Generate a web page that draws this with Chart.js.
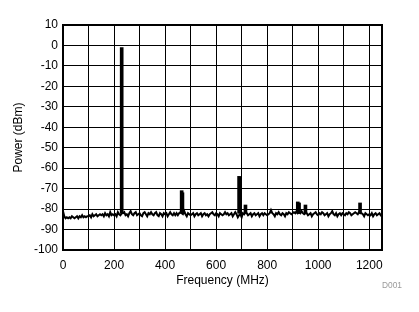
<!DOCTYPE html>
<html><head><meta charset="utf-8">
<script src="https://cdn.jsdelivr.net/npm/chart.js@4/dist/chart.umd.min.js"></script>
<style>html,body{margin:0;padding:0;background:#fff;overflow:hidden}</style>
</head><body>
<canvas id="c" width="419" height="312"></canvas>
<script>
const xTitle = 'Frequency (MHz)';
const yTitle = 'Power (dBm)';
const noteText = 'D001';
const xMin = 0, xMax = 1250;
const xGridValues = [0, 100, 200, 300, 400, 500, 600, 700, 800, 900, 1000, 1100, 1200];
const xLabelValues = [0, 200, 400, 600, 800, 1000, 1200];
const yMin = -100, yMax = 10, yStep = 10;
const FREQ_STEP = 5; // MHz between noise-floor bins
const noiseFloor = [
  -81, -83.5, -84.5, -84, -84.5, -84, -84.5, -83.5, -84, -84.5,
  -84, -83.5, -84.5, -83.5, -84, -83, -84, -83.5, -84, -83.5,
  -83.5, -83, -84, -82.5, -83.5, -83, -82.5, -83.5, -83, -82.5,
  -83, -82.5, -83.5, -82, -83, -82.5, -83.5, -81.5, -83, -82.5,
  -83, -82.5, -83.5, -81.5, -82.5, -83, -82, -82, -81.5, -83,
  -82.5, -83.5, -82, -81, -82.5, -83, -82, -81.5, -83, -82.5,
  -82, -83, -83.5, -82, -81.5, -82.5, -83.5, -82, -82.5, -81.5,
  -82.5, -83, -82, -81.5, -83, -83.5, -82, -82.5, -83.5, -82,
  -82.5, -82, -83.5, -82.5, -81.5, -82.5, -83, -82, -83, -82,
  -83, -82, -81.5, -82, -82.5, -81, -82.5, -83.5, -82, -82.5,
  -83, -82.5, -82, -83.5, -82.5, -82, -83, -82.5, -82, -83.5,
  -82.5, -82, -83, -82.5, -83.5, -82.5, -82, -81.5, -82.5, -83,
  -82, -82.5, -83.5, -82, -82.5, -83, -82.5, -81.5, -82.5, -82,
  -83, -82.5, -82, -83.5, -82.5, -81.5, -82.5, -84, -83, -82.5,
  -84, -82, -82.5, -81.5, -82, -83, -82.5, -82, -83.5, -82.5,
  -82, -83, -82.5, -82, -83.5, -82.5, -82, -83, -82, -82.5,
  -83, -82.5, -82, -80.5, -82, -82.5, -83.5, -82, -82.5, -81.5,
  -82.5, -83, -82, -82.5, -83.5, -82, -82.5, -81.5, -82, -82.5,
  -82, -81.5, -82, -81, -82, -81.5, -82, -81, -82, -82.5,
  -82, -82, -83, -82.5, -82, -83.5, -82.5, -82, -81.5, -82.5,
  -83, -82, -82.5, -81.5, -82, -83, -82.5, -82, -83.5, -82.5,
  -82, -81, -82.5, -83, -82, -83.5, -82.5, -82, -83, -82,
  -82.5, -83, -82, -82.5, -81.5, -82, -83, -82.5, -82, -81.5,
  -82, -82.5, -81.5, -82, -82, -82.5, -83.5, -82, -82.5, -83,
  -82.5, -83, -82, -83.5, -82.5, -82, -83, -82.5, -82, -83,
  -82.5
];
const freqs = noiseFloor.map((_, i) => i * FREQ_STEP);

// Spurs / tones: frequency (MHz), peak power (dBm)
const spurFreqs = [230, 465, 468, 690, 694, 715, 920, 925, 950, 1164];
const spurPeaks = [-1, -71, -72, -64, -64.5, -78, -76.5, -77, -78, -77];
const spurBase = -82;

const FONT = "'Liberation Sans', Arial, sans-serif";

const framePlugin = {
  id: 'frame',
  afterDraw(chart) {
    const {ctx, chartArea: a} = chart;
    ctx.save();
    ctx.strokeStyle = '#000';
    ctx.lineWidth = 2;
    ctx.strokeRect(a.left, a.top, a.right - a.left, a.bottom - a.top);
    ctx.fillStyle = '#9a9a9a';
    ctx.font = '8.4px ' + FONT;
    ctx.textAlign = 'left';
    ctx.textBaseline = 'alphabetic';
    ctx.fillText(noteText, 382, 288);
    ctx.restore();
  }
};

new Chart(document.getElementById('c'), {
  type: 'line',
  data: {
    datasets: [{
      type: 'bar',
      data: spurFreqs.map((f, i) => ({x: f, y: [spurBase, spurPeaks[i]]})),
      backgroundColor: '#000',
      borderWidth: 0,
      barThickness: 3,
      order: 2
    }, {
      type: 'line',
      data: freqs.map((f, i) => ({x: f, y: noiseFloor[i]})),
      borderColor: '#000',
      borderWidth: 2,
      pointRadius: 0,
      tension: 0,
      fill: false,
      order: 1
    }]
  },
  options: {
    responsive: false,
    animation: false,
    events: [],
    plugins: {legend: {display: false}, tooltip: {enabled: false}},
    layout: {padding: {left: 0, right: 37, top: 25, bottom: 0}},
    scales: {
      x: {
        type: 'linear', min: xMin, max: xMax, offset: false,
        afterFit: s => { s.height = 62; },
        afterBuildTicks: s => { s.ticks = xGridValues.map(v => ({value: v})); },
        grid: {color: '#000', lineWidth: 1, drawTicks: false, offset: false},
        border: {display: false},
        ticks: {
          autoSkip: false, maxRotation: 0, padding: 8,
          color: '#000', font: {family: FONT, size: 12},
          callback: v => xLabelValues.includes(v) ? String(v) : ''
        },
        title: {display: true, text: xTitle, color: '#000', font: {family: FONT, size: 12}, padding: {top: 0, bottom: 24}}
      },
      y: {
        min: yMin, max: yMax,
        afterFit: s => { s.width = 63; },
        grid: {color: '#000', lineWidth: 1, drawTicks: false},
        border: {display: false},
        ticks: {
          stepSize: yStep, autoSkip: false, padding: 5,
          color: '#000', font: {family: FONT, size: 12},
          callback: v => String(v)
        },
        title: {display: true, text: yTitle, color: '#000', font: {family: FONT, size: 12}, padding: {top: 11, bottom: 0}}
      }
    }
  },
  plugins: [framePlugin]
});
</script>
</body></html>
